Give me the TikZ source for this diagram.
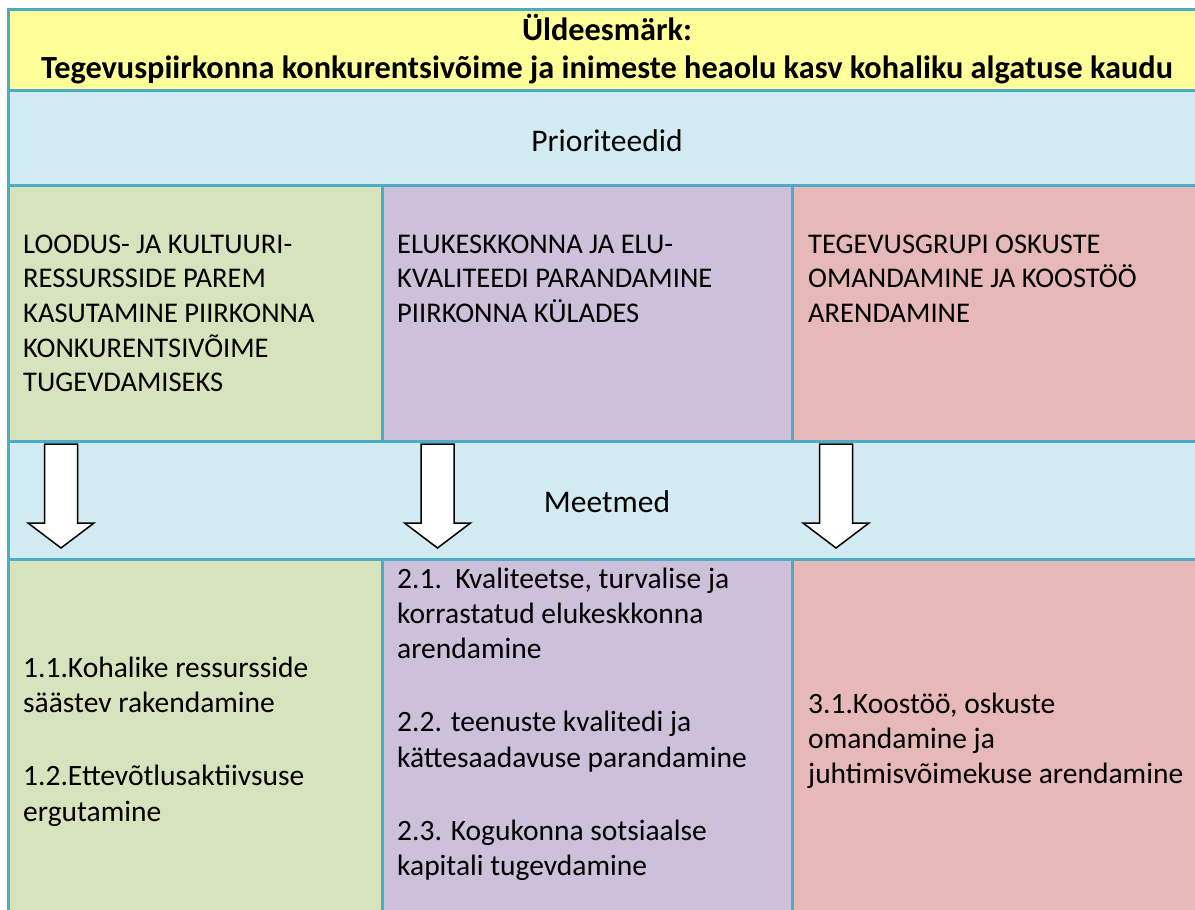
\documentclass[tikz,border=0pt]{standalone}
\usepackage{fontspec}
\setmainfont{Carlito}
\usepackage{tikz}

\definecolor{rim}{HTML}{4BACC6}
\definecolor{goal}{HTML}{FFFF99}
\definecolor{band}{HTML}{D2EAF1}
\definecolor{prioA}{HTML}{D7E3BC}
\definecolor{prioB}{HTML}{CCC0DA}
\definecolor{prioC}{HTML}{E6B8B7}

\tikzset{
  priotext/.style={anchor=north west, inner sep=0pt, align=left, font=\fontsize{28.5}{34.7}\selectfont},
  meettext/.style={anchor=north west, inner sep=0pt, align=left, font=\fontsize{29.5}{35.4}\selectfont},
  bandtext/.style={anchor=base, inner sep=0pt, font=\fontsize{31.5}{38}\selectfont},
  rimline/.style={rim, line width=3pt},
  downarrow/.style={fill=white, draw=black, line width=1.5pt, line join=miter}
}

\begin{document}
\begin{tikzpicture}[x=1pt,y=-1pt]
\useasboundingbox (0,0) rectangle (1195,910);
\clip (0,0) rectangle (1195,910);
\fill[white] (0,0) rectangle (1195,910);
% bands
\fill[goal] (8.5,9.5) rectangle (1206,90.5);
\fill[band] (8.5,90.5) rectangle (1206,185.5);
\fill[band] (8.5,441) rectangle (1206,559);
% columns
\fill[prioA] (8.5,185.5) rectangle (382,441);
\fill[prioB] (382,185.5) rectangle (792.5,441);
\fill[prioC] (792.5,185.5) rectangle (1206,441);
\fill[prioA] (8.5,559) rectangle (382,920);
\fill[prioB] (382,559) rectangle (792.5,920);
\fill[prioC] (792.5,559) rectangle (1206,920);
% grid
\draw[rimline] (8.5,920) -- (8.5,9.5) -- (1206,9.5) -- (1206,920);
\foreach \y in {90.5,185.5,441,559}
  \draw[rimline] (8.5,\y) -- (1206,\y);
\foreach \x in {382,792.5} {
  \draw[rimline] (\x,185.5) -- (\x,441);
  \draw[rimline] (\x,559) -- (\x,920);
}
% arrows
\foreach \x in {61,437.5,836}
  \filldraw[downarrow] (\x-16.5,444) -- (\x+16.5,444) -- (\x+16.5,523) -- (\x+33,523)
    -- (\x,548) -- (\x-33,523) -- (\x-16.5,523) -- cycle;

\node[anchor=base, inner sep=0pt, align=center, font=\bfseries\fontsize{32.3}{37.3}\selectfont] (goaltext) at (607,78)
  {Üldeesmärk:\\Tegevuspiirkonna konkurentsivõime ja inimeste heaolu kasv kohaliku algatuse kaudu};
\node[bandtext] (prio) at (607,151) {Prioriteedid};
\node[bandtext] (meet) at (607,512) {Meetmed};

\node[priotext] (prioone) at (23,228.7)
  {\strut LOODUS- JA KULTUURI-\\RESSURSSIDE PAREM\\KASUTAMINE PIIRKONNA\\KONKURENTSIVÕIME\\TUGEVDAMISEKS};
\node[priotext] (priotwo) at (397,228.7)
  {\strut ELUKESKKONNA JA ELU-\\KVALITEEDI PARANDAMINE\\PIIRKONNA KÜLADES};
\node[priotext] (priothree) at (808,228.7)
  {\strut TEGEVUSGRUPI OSKUSTE\\OMANDAMINE JA KOOSTÖÖ\\ARENDAMINE};

\node[meettext] (meetone) at (23,652.2)
  {\strut 1.1.Kohalike ressursside\\säästev rakendamine\\[38pt]1.2.Ettevõtlusaktiivsuse\\ergutamine};
\node[meettext] (meettwo) at (397,563.2)
  {\strut 2.1.\ \ Kvaliteetse, turvalise ja\\korrastatud elukeskkonna\\arendamine\\[37.6pt]2.2. teenuste kvalitedi ja\\kättesaadavuse parandamine\\[37.6pt]2.3. Kogukonna sotsiaalse\\kapitali tugevdamine};
\node[meettext] (meetthree) at (808,688.2)
  {\strut 3.1.Koostöö, oskuste\\omandamine ja\\juhtimisvõimekuse arendamine};
\end{tikzpicture}
\end{document}
